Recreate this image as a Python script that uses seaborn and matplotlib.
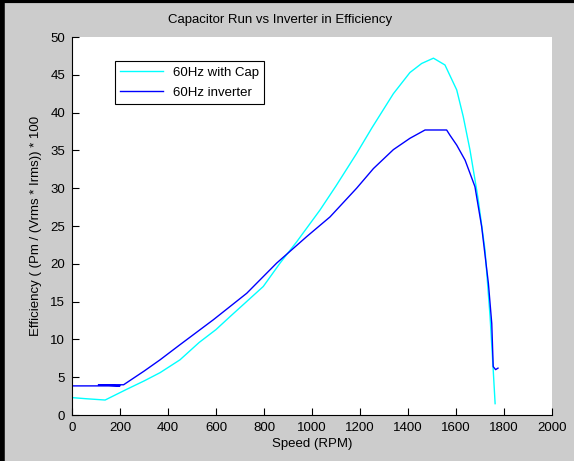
import pandas as pd
import matplotlib
matplotlib.use("Agg")
import matplotlib.pyplot as plt
import seaborn as sns

# ==========================================
# 데이터
# ==========================================
CAP_SPEED = [0, 60, 138, 228, 300, 367, 450, 530, 600, 658, 797, 867, 936,
             1033, 1100, 1186, 1250, 1339, 1408, 1457, 1506, 1554, 1603,
             1630, 1658, 1686, 1693, 1721, 1742, 1755, 1763]
CAP_EFF = [2.3, 2.15, 1.98, 3.4, 4.5, 5.6, 7.3, 9.6, 11.3, 13.0, 17.0, 20.1, 22.9,
           27.1, 30.3, 34.6, 38.0, 42.5, 45.3, 46.5, 47.2, 46.3, 43.0,
           39.5, 35.1, 29.8, 28.4, 21.8, 13.0, 6.0, 1.5]

INV_SPEED = [0, 200, 110, 215, 300, 367, 450, 589, 728, 853, 978, 1075, 1186,
             1256, 1339, 1408, 1471, 1519, 1561, 1575, 1603, 1638, 1658, 1679,
             1707, 1735, 1749, 1755, 1765, 1775]
INV_EFF = [3.85, 3.85, 4.0, 4.0, 5.8, 7.3, 9.3, 12.6, 16.1, 20.1, 23.6, 26.2, 30.0,
           32.6, 35.1, 36.6, 37.7, 37.7, 37.7, 37.0, 35.7, 33.7, 32.0, 30.2,
           24.9, 17.4, 12.1, 6.4, 6.0, 6.2]

X_TICKS = list(range(0, 2001, 200))
Y_TICKS = list(range(0, 51, 5))

TITLE = "Capacitor Run vs Inverter in Efficiency"
XLABEL = "Speed (RPM)"
YLABEL = "Efficiency ( (Pm / (Vrms * Irms)) * 100"

# ==========================================
# 시각화
# ==========================================
plt.rcParams['font.family'] = ['Liberation Sans', 'DejaVu Sans']
plt.rcParams['font.size'] = 9.5

fig = plt.figure(figsize=(5.74, 4.61), dpi=100, facecolor='#cccccc')
ax = fig.add_axes([72 / 574, 1 - 415 / 461, 480 / 574, 378 / 461])
ax.set_facecolor('white')

cap_df = pd.DataFrame({'speed': CAP_SPEED, 'eff': CAP_EFF})
inv_df = pd.DataFrame({'speed': INV_SPEED, 'eff': INV_EFF})

sns.lineplot(data=cap_df, x='speed', y='eff', sort=False, estimator=None,
             color='#00ffff', linewidth=1.0, ax=ax, label='60Hz with Cap')
sns.lineplot(data=inv_df, x='speed', y='eff', sort=False, estimator=None,
             color='#0000ff', linewidth=1.0, ax=ax, label='60Hz inverter')

ax.set_xlim(0, 2000)
ax.set_ylim(0, 50)
ax.set_xticks(X_TICKS)
ax.set_yticks(Y_TICKS)
ax.tick_params(direction='in', length=5, width=0.8, colors='black',
               labelsize=9.5, pad=5)
for side in ['top', 'right']:
    ax.spines[side].set_visible(False)
for side in ['left', 'bottom']:
    ax.spines[side].set_linewidth(0.8)

ax.set_xlabel(XLABEL, fontsize=9.5, labelpad=3)
ax.set_ylabel(YLABEL, fontsize=9.5, labelpad=6)
fig.text(280 / 574, 1 - 20 / 461, TITLE, ha='center', va='center', fontsize=9.5)

leg = ax.legend(loc='upper left', bbox_to_anchor=(0.0896, 0.9365),
                fancybox=False, framealpha=1, edgecolor='black',
                fontsize=9.5, handlelength=3.2, borderpad=0.4,
                labelspacing=0.6, borderaxespad=0)
leg.get_frame().set_linewidth(0.8)

# 그림 테두리 (왼쪽, 위)
fig.add_artist(plt.Line2D([0.003, 0.003], [0, 1], color='black', lw=4,
                          transform=fig.transFigure))
fig.add_artist(plt.Line2D([0, 1], [0.998, 0.998], color='black', lw=3,
                          transform=fig.transFigure))

fig.savefig('out.png', dpi=100, facecolor=fig.get_facecolor())
